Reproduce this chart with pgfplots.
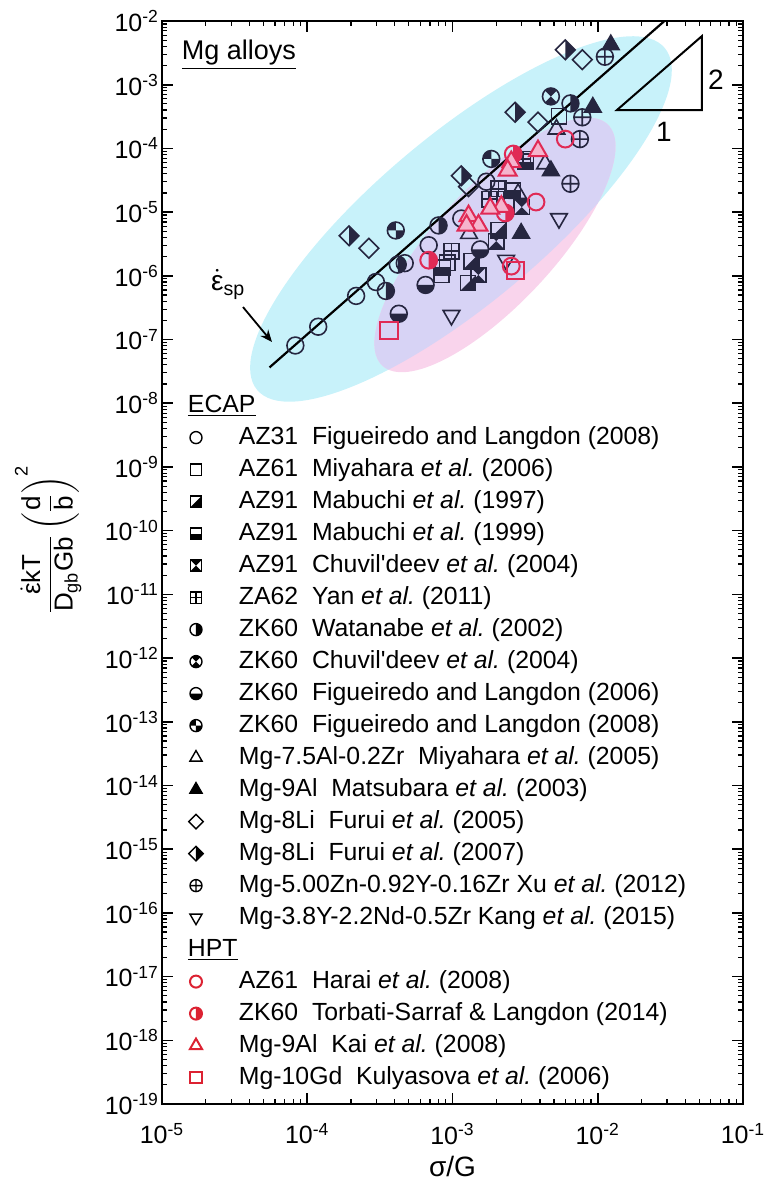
\documentclass[border=0pt]{standalone}
\usepackage{amsmath}
\usepackage{fontspec}
\setmainfont{Liberation Sans}
\usepackage{pgfplots}
\pgfplotsset{compat=1.18}
\usetikzlibrary{arrows.meta}

\definecolor{cyanE}{RGB}{200,242,250}
\definecolor{pinkE}{RGB}{249,212,236}
\definecolor{lavE}{RGB}{215,211,245}
\definecolor{mk}{RGB}{38,38,64}
\definecolor{hr}{RGB}{224,42,85}
\definecolor{hrl}{RGB}{220,34,50}
\definecolor{tripink}{RGB}{245,180,205}

\def\mksq{\pgfpathrectangle{\pgfpoint{-\pgfplotmarksize}{-\pgfplotmarksize}}{\pgfpoint{2\pgfplotmarksize}{2\pgfplotmarksize}}\pgfusepathqstroke}
\def\mkci{\pgfpathcircle{\pgfpointorigin}{\pgfplotmarksize}\pgfusepathqstroke}
\pgfdeclareplotmark{sqdiag}{%
 \pgfpathmoveto{\pgfpoint{\pgfplotmarksize}{-\pgfplotmarksize}}%
 \pgfpathlineto{\pgfpoint{\pgfplotmarksize}{\pgfplotmarksize}}%
 \pgfpathlineto{\pgfpoint{-\pgfplotmarksize}{-\pgfplotmarksize}}%
 \pgfpathclose\pgfusepathqfill\mksq}
\pgfdeclareplotmark{sqbot}{%
 \pgfpathrectangle{\pgfpoint{-\pgfplotmarksize}{-\pgfplotmarksize}}{\pgfpoint{2\pgfplotmarksize}{\pgfplotmarksize}}%
 \pgfusepathqfill\mksq}
\pgfdeclareplotmark{sqhg}{%
 \pgfpathmoveto{\pgfpoint{-\pgfplotmarksize}{\pgfplotmarksize}}%
 \pgfpathlineto{\pgfpoint{\pgfplotmarksize}{\pgfplotmarksize}}%
 \pgfpathlineto{\pgfpointorigin}\pgfpathclose
 \pgfpathmoveto{\pgfpoint{-\pgfplotmarksize}{-\pgfplotmarksize}}%
 \pgfpathlineto{\pgfpoint{\pgfplotmarksize}{-\pgfplotmarksize}}%
 \pgfpathlineto{\pgfpointorigin}\pgfpathclose
 \pgfusepathqfill\mksq}
\pgfdeclareplotmark{sqplus}{%
 \pgfpathrectangle{\pgfpoint{-\pgfplotmarksize}{-\pgfplotmarksize}}{\pgfpoint{2\pgfplotmarksize}{2\pgfplotmarksize}}%
 \pgfpathmoveto{\pgfpoint{0pt}{-\pgfplotmarksize}}\pgfpathlineto{\pgfpoint{0pt}{\pgfplotmarksize}}%
 \pgfpathmoveto{\pgfpoint{-\pgfplotmarksize}{0pt}}\pgfpathlineto{\pgfpoint{\pgfplotmarksize}{0pt}}%
 \pgfusepathqstroke}
\pgfdeclareplotmark{chalfr}{%
 \pgfpathmoveto{\pgfpoint{0pt}{\pgfplotmarksize}}%
 \pgfpatharc{90}{-90}{\pgfplotmarksize}\pgfpathclose\pgfusepathqfill\mkci}
\pgfdeclareplotmark{chbot}{%
 \pgfpathmoveto{\pgfpoint{-\pgfplotmarksize}{0pt}}%
 \pgfpatharc{180}{360}{\pgfplotmarksize}\pgfpathclose\pgfusepathqfill\mkci}
\pgfdeclareplotmark{chg}{%
 \pgfpathmoveto{\pgfpointorigin}\pgfpathlineto{\pgfpointpolar{45}{\pgfplotmarksize}}%
 \pgfpatharc{45}{135}{\pgfplotmarksize}\pgfpathclose
 \pgfpathmoveto{\pgfpointorigin}\pgfpathlineto{\pgfpointpolar{225}{\pgfplotmarksize}}%
 \pgfpatharc{225}{315}{\pgfplotmarksize}\pgfpathclose
 \pgfusepathqfill\mkci}
\pgfdeclareplotmark{cq}{%
 \pgfpathmoveto{\pgfpointorigin}\pgfpathlineto{\pgfpointpolar{90}{\pgfplotmarksize}}%
 \pgfpatharc{90}{180}{\pgfplotmarksize}\pgfpathclose
 \pgfpathmoveto{\pgfpointorigin}\pgfpathlineto{\pgfpointpolar{270}{\pgfplotmarksize}}%
 \pgfpatharc{270}{360}{\pgfplotmarksize}\pgfpathclose
 \pgfusepathqfill\mkci}
\pgfdeclareplotmark{dia}{%
 \pgfpathmoveto{\pgfpoint{0pt}{1.2\pgfplotmarksize}}%
 \pgfpathlineto{\pgfpoint{1.2\pgfplotmarksize}{0pt}}%
 \pgfpathlineto{\pgfpoint{0pt}{-1.2\pgfplotmarksize}}%
 \pgfpathlineto{\pgfpoint{-1.2\pgfplotmarksize}{0pt}}%
 \pgfpathclose\pgfusepathqstroke}
\pgfdeclareplotmark{diahalf}{%
 \pgfpathmoveto{\pgfpoint{0pt}{1.2\pgfplotmarksize}}%
 \pgfpathlineto{\pgfpoint{1.2\pgfplotmarksize}{0pt}}%
 \pgfpathlineto{\pgfpoint{0pt}{-1.2\pgfplotmarksize}}%
 \pgfpathclose\pgfusepathqfill
 \pgfpathmoveto{\pgfpoint{0pt}{1.2\pgfplotmarksize}}%
 \pgfpathlineto{\pgfpoint{1.2\pgfplotmarksize}{0pt}}%
 \pgfpathlineto{\pgfpoint{0pt}{-1.2\pgfplotmarksize}}%
 \pgfpathlineto{\pgfpoint{-1.2\pgfplotmarksize}{0pt}}%
 \pgfpathclose\pgfusepathqstroke}

\newcommand{\etal}{\textit{et al.}}

\begin{document}
\begin{tikzpicture}
\begin{axis}[
  name=ax,
  scale only axis, width=290.5pt, height=541.5pt,
  xmode=log, ymode=log,
  xmin=1e-5, xmax=1e-1, ymin=1e-19, ymax=1e-2,
  xtickten={-5,-4,-3,-2,-1},
  ytickten={-19,-18,-17,-16,-15,-14,-13,-12,-11,-10,-9,-8,-7,-6,-5,-4,-3,-2},
  log number format basis/.code 2 args={#1\textsuperscript{\pgfmathprintnumber[fixed,precision=0,assume math mode=true]{#2}}},
  tick label style={font=\fontsize{12.5}{14}\selectfont},
  xticklabel style={yshift=-6pt},
  yticklabel style={xshift=2pt},
  axis line style={line width=1pt},
  major tick length=5.5pt, minor tick length=2.5pt,
  tick style={line width=0.8pt, black},
  minor tick style={line width=0.6pt, black},
  xlabel={σ/G},
  xlabel style={at={(rel axis cs:0.5,-0.0575)}, anchor=center, font=\fontsize{14}{16}\selectfont},
  ylabel={$\dfrac{\dot{\text{ε}}\text{kT}}{\text{D}_{\text{gb}}\text{Gb}}\left(\dfrac{\text{d}}{\text{b}}\right)^{\text{2}}$},
  ylabel style={at={(rel axis cs:-0.196,0.521)}, anchor=center, rotate=0, font=\fontsize{13}{15}\selectfont},
  legend style={draw=none, fill=none, inner sep=0pt, outer sep=0pt,
    at={(rel axis cs:0.0396,0.6556)}, anchor=north west,
    font=\fontsize{12.4}{14}\selectfont,
    row sep=4.4pt, column sep=0pt,
    nodes={inner sep=0pt, text height=9pt, text depth=2.6pt}},
  legend cell align=left,
  legend image code/.code={\path (0pt,0pt) (26pt,0pt); \draw[#1] plot coordinates {(5pt,0pt)};},
]
% shaded ellipses
\fill[cyanE, rotate around={40:(rel axis cs:0.5146,0.8172)}] (rel axis cs:0.5146,0.8172) ellipse [x radius=133pt, y radius=42pt];
\fill[pinkE, rotate around={47:(rel axis cs:0.5731,0.7932)}] (rel axis cs:0.5731,0.7932) ellipse [x radius=82.5pt, y radius=29.5pt];
\begin{scope}
\clip[rotate around={40:(rel axis cs:0.5146,0.8172)}] (rel axis cs:0.5146,0.8172) ellipse [x radius=133pt, y radius=42pt];
\fill[lavE, rotate around={47:(rel axis cs:0.5731,0.7932)}] (rel axis cs:0.5731,0.7932) ellipse [x radius=82.5pt, y radius=29.5pt];
\end{scope}

% superplastic line
\addplot[black, line width=1.1pt, forget plot] coordinates {(5.5e-5,3.65e-8) (0.0288,1e-2)};

% ECAP data
\addplot[only marks, mark=o, mark size=4.2pt, color=mk, line width=0.8pt, forget plot] coordinates {
 (8.28e-5,8.07e-8) (1.19e-4,1.59e-7) (2.17e-4,4.84e-7) (2.97e-4,8.0e-7) (4.69e-4,1.58e-6) (6.86e-4,3.02e-6) (1.15e-3,7.94e-6) (1.71e-3,3.0e-5)};
\addplot[only marks, mark=square, mark size=3.8pt, color=mk, line width=0.8pt, forget plot] coordinates {
 (5.41e-3,3.2e-4) (8.41e-4,1.03e-6) (9.2e-4,1.6e-6) (2.0e-3,1.6e-5)};
\addplot[only marks, mark=sqdiag, mark size=3.8pt, color=mk, line width=0.8pt, forget plot] coordinates {
 (1.35e-3,1.7e-6) (1.28e-3,7.7e-7) (2.07e-3,5.2e-6)};
\addplot[only marks, mark=sqbot, mark size=3.8pt, color=mk, line width=0.8pt, forget plot] coordinates {
 (8.6e-4,1.35e-6) (3.2e-3,6.2e-5) (2.6e-3,2.2e-5)};
\addplot[only marks, mark=sqhg, mark size=3.8pt, color=mk, line width=0.8pt, forget plot] coordinates {
 (3.0e-3,1.2e-5) (1.51e-3,1.03e-6) (2.0e-3,3.5e-6)};
\addplot[only marks, mark=sqplus, mark size=3.8pt, color=mk, line width=0.8pt, forget plot] coordinates {
 (9.84e-4,2.43e-6) (2.07e-3,2.33e-5) (3.06e-3,6.84e-5) (1.8e-3,1.6e-5)};
\addplot[only marks, mark=chalfr, mark size=4.2pt, color=mk, line width=0.8pt, forget plot] coordinates {
 (3.48e-4,5.79e-7) (8.02e-4,6.18e-6) (6.49e-3,5.09e-4) (4.2e-4,1.5e-6)};
\addplot[only marks, mark=chg, mark size=4.2pt, color=mk, line width=0.8pt, forget plot] coordinates {
 (4.76e-3,6.55e-4)};
\addplot[only marks, mark=chbot, mark size=4.2pt, color=mk, line width=0.8pt, forget plot] coordinates {
 (6.53e-4,7.19e-7) (4.27e-4,2.54e-7) (1.55e-3,2.6e-6)};
\addplot[only marks, mark=cq, mark size=4.2pt, color=mk, line width=0.8pt, forget plot] coordinates {
 (4.07e-4,5.16e-6) (1.85e-3,6.84e-5)};
\addplot[only marks, mark=triangle, mark size=4.8pt, color=mk, line width=0.8pt, forget plot] coordinates {
 (2.83e-3,1.95e-5) (4.34e-3,5.71e-5) (5.2e-3,2.0e-4) (1.3e-3,4.6e-6)};
\addplot[only marks, mark=triangle*, mark size=4.8pt, color=mk, line width=0.8pt, forget plot] coordinates {
 (1.23e-2,4.23e-3) (9.25e-3,4.42e-4) (4.76e-3,4.45e-5) (2.97e-3,4.64e-6)};
\addplot[only marks, mark=dia, mark size=4.1pt, color=mk, line width=0.8pt, forget plot] coordinates {
 (7.83e-3,2.47e-3) (3.88e-3,2.58e-4) (1.29e-3,2.51e-5) (2.66e-4,2.71e-6)};
\addplot[only marks, mark=diahalf, mark size=4.1pt, color=mk, line width=0.8pt, forget plot] coordinates {
 (5.98e-3,3.53e-3) (2.70e-3,3.69e-4) (1.15e-3,3.72e-5) (1.94e-4,4.25e-6)};
\addplot[only marks, mark=oplus, mark size=4.2pt, color=mk, line width=0.8pt, forget plot] coordinates {
 (1.12e-2,2.75e-3) (7.83e-3,3.08e-4) (7.54e-3,1.40e-4) (6.49e-3,2.79e-5)};
\addplot[only marks, mark=triangle, mark size=4.8pt, mark options={rotate=180}, color=mk, line width=0.8pt, forget plot] coordinates {
 (5.41e-3,7.94e-6) (2.34e-3,1.76e-6) (9.84e-4,2.4e-7)};
% HPT data
\addplot[only marks, mark=o, mark size=4.2pt, color=hr, line width=1pt, forget plot] coordinates {
 (5.98e-3,1.40e-4) (3.76e-3,1.44e-5) (2.54e-3,1.42e-6)};
\addplot[only marks, mark=chalfr, mark size=4.2pt, color=hr, line width=1pt, forget plot] coordinates {
 (2.62e-3,8.18e-5) (6.86e-4,1.76e-6) (2.31e-3,9.7e-6)};
\addplot[only marks, mark=triangle*, mark size=5.2pt, mark options={draw=hr, fill=tripink}, line width=1pt, forget plot] coordinates {
 (3.88e-3,9.12e-5) (2.54e-3,6.14e-5) (2.17e-3,1.22e-5) (1.82e-3,1.14e-5) (1.29e-3,8.69e-6) (1.51e-3,6.18e-6) (1.25e-3,6.18e-6) (2.4e-3,4.5e-5)};
\addplot[only marks, mark=square, mark size=4.3pt, color=hr, line width=1pt, forget plot] coordinates {
 (2.70e-3,1.23e-6) (3.65e-4,1.38e-7)};

% annotations
\node[font=\fontsize{13.5}{15}\selectfont] at (rel axis cs:0.1325,0.9686) {\underline{Mg alloys}};
\node[font=\fontsize{14}{16}\selectfont] at (rel axis cs:0.114,0.757) {$\dot{\text{ε}}_{\text{sp}}$};
\draw[-{Stealth[length=6pt,width=5pt]}, line width=0.9pt] (rel axis cs:0.1394,0.7359) -- (rel axis cs:0.1893,0.7036);
\draw[line width=1pt] (rel axis cs:0.7831,0.9178) -- (rel axis cs:0.9294,0.9178) -- (rel axis cs:0.9294,0.9861) -- cycle;
\node[font=\fontsize{14}{16}\selectfont] at (rel axis cs:0.9535,0.9455) {2};
\node[font=\fontsize{14}{16}\selectfont] at (rel axis cs:0.864,0.8975) {1};

% legend
\addlegendimage{empty legend}\addlegendentry{\makebox[0pt][l]{\hspace*{-26pt}\underline{ECAP}}}
\addlegendimage{only marks, mark=o, mark size=3pt, black, line width=0.7pt}\addlegendentry{AZ31\ \ Figueiredo and Langdon (2008)}
\addlegendimage{only marks, mark=square, mark size=2.8pt, black, line width=0.7pt}\addlegendentry{AZ61\ \ Miyahara \etal\ (2006)}
\addlegendimage{only marks, mark=sqdiag, mark size=2.8pt, black, line width=0.7pt}\addlegendentry{AZ91\ \ Mabuchi \etal\ (1997)}
\addlegendimage{only marks, mark=sqbot, mark size=2.8pt, black, line width=0.7pt}\addlegendentry{AZ91\ \ Mabuchi \etal\ (1999)}
\addlegendimage{only marks, mark=sqhg, mark size=2.8pt, black, line width=0.7pt}\addlegendentry{AZ91\ \ Chuvil\textquotesingle deev \etal\ (2004)}
\addlegendimage{only marks, mark=sqplus, mark size=2.8pt, black, line width=0.7pt}\addlegendentry{ZA62\ \ Yan \etal\ (2011)}
\addlegendimage{only marks, mark=chalfr, mark size=3pt, black, line width=0.7pt}\addlegendentry{ZK60\ \ Watanabe \etal\ (2002)}
\addlegendimage{only marks, mark=chg, mark size=3pt, black, line width=0.7pt}\addlegendentry{ZK60\ \ Chuvil\textquotesingle deev \etal\ (2004)}
\addlegendimage{only marks, mark=chbot, mark size=3pt, black, line width=0.7pt}\addlegendentry{ZK60\ \ Figueiredo and Langdon (2006)}
\addlegendimage{only marks, mark=cq, mark size=3pt, black, line width=0.7pt}\addlegendentry{ZK60\ \ Figueiredo and Langdon (2008)}
\addlegendimage{only marks, mark=triangle, mark size=3.5pt, black, line width=0.7pt}\addlegendentry{Mg-7.5Al-0.2Zr\ \ Miyahara \etal\ (2005)}
\addlegendimage{only marks, mark=triangle*, mark size=3.5pt, black, line width=0.7pt}\addlegendentry{Mg-9Al\ \ Matsubara \etal\ (2003)}
\addlegendimage{only marks, mark=dia, mark size=3pt, black, line width=0.7pt}\addlegendentry{Mg-8Li\ \ Furui \etal\ (2005)}
\addlegendimage{only marks, mark=diahalf, mark size=3pt, black, line width=0.7pt}\addlegendentry{Mg-8Li\ \ Furui \etal\ (2007)}
\addlegendimage{only marks, mark=oplus, mark size=3pt, black, line width=0.7pt}\addlegendentry{Mg-5.00Zn-0.92Y-0.16Zr Xu \etal\ (2012)}
\addlegendimage{only marks, mark=triangle, mark size=3.5pt, mark options={rotate=180}, black, line width=0.7pt}\addlegendentry{Mg-3.8Y-2.2Nd-0.5Zr Kang \etal\ (2015)}
\addlegendimage{empty legend}\addlegendentry{\makebox[0pt][l]{\hspace*{-26pt}\underline{HPT}}}
\addlegendimage{only marks, mark=o, mark size=3pt, hrl, line width=1pt}\addlegendentry{AZ61\ \ Harai \etal\ (2008)}
\addlegendimage{only marks, mark=chalfr, mark size=3pt, hrl, line width=1pt}\addlegendentry{ZK60\ \ Torbati-Sarraf \& Langdon (2014)}
\addlegendimage{only marks, mark=triangle, mark size=3.5pt, hrl, line width=1pt}\addlegendentry{Mg-9Al\ \ Kai \etal\ (2008)}
\addlegendimage{only marks, mark=square, mark size=2.8pt, hrl, line width=1pt}\addlegendentry{Mg-10Gd\ \ Kulyasova \etal\ (2006)}
\end{axis}
\pgfresetboundingbox
\path[use as bounding box] ([xshift=-81pt,yshift=-39.5pt]ax.south west) rectangle ([xshift=12.5pt,yshift=10.5pt]ax.north east);
\end{tikzpicture}
\end{document}
